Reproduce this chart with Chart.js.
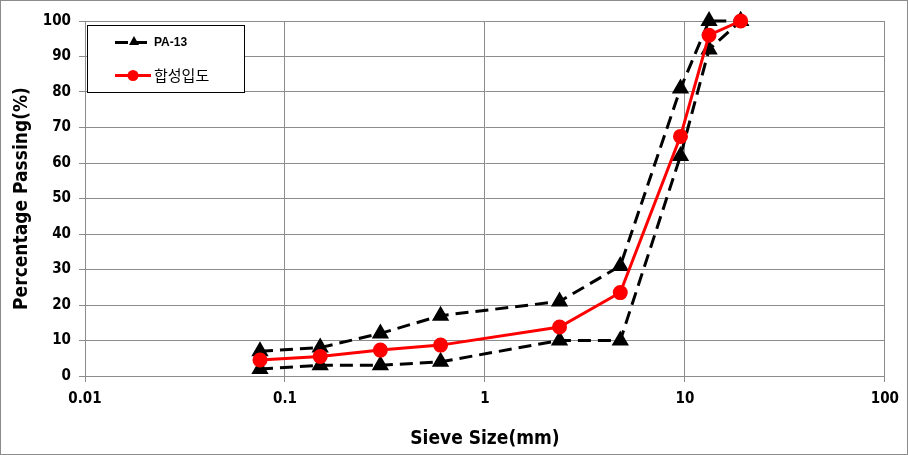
<!DOCTYPE html>
<html>
<head>
<meta charset="utf-8">
<script src="https://cdn.jsdelivr.net/npm/chart.js@4"></script>
<style>
  html, body { margin: 0; padding: 0; background: #fff; }
  #wrap { position: relative; width: 906px; height: 453px; border: 1px solid #8c8c8c; }
</style>
</head>
<body>
<div id="wrap"><canvas id="myChart" width="906" height="453"></canvas></div>
<script>
const sieveSizes = [0.075, 0.15, 0.3, 0.6, 2.36, 4.75, 9.5, 13.2, 19];
const upperLimit = [7, 8, 12, 17, 21, 31, 81, 100, 100];
const lowerLimit = [2, 3, 3, 4, 10, 10, 62, 92, 100];
const blendPassing = [4.5, 5.5, 7.3, 8.7, 13.8, 23.5, 67.5, 96, 100];
const xTicks = [0.01, 0.1, 1, 10, 100];

const axisFont = { family: "'DejaVu Sans Condensed', 'Liberation Sans', sans-serif", weight: 'bold', size: 15 };
const titleFont = { family: "'DejaVu Sans Condensed', 'Liberation Sans', sans-serif", weight: 'bold', size: 19 };

function toPoints(values) {
    return sieveSizes.map((s, i) => ({ x: s, y: values[i] }));
}

const blackDash = {
    borderColor: '#000',
    backgroundColor: '#000',
    borderWidth: 3,
    borderDash: [13, 7],
    pointStyle: 'triangle',
    pointRadius: 7,
    pointHoverRadius: 7,
    tension: 0,
    clip: false,
    order: 2
};

const legendBox = {
    id: 'legendBox',
    afterDraw(chart) {
        const ctx = chart.ctx;
        ctx.save();
        ctx.fillStyle = '#fff';
        ctx.fillRect(86, 24, 158, 67);
        ctx.strokeStyle = '#000';
        ctx.lineWidth = 1;
        ctx.strokeRect(86.5, 24.5, 157, 67);

        // PA-13 sample
        ctx.strokeStyle = '#000';
        ctx.lineWidth = 3;
        ctx.setLineDash([13, 6]);
        ctx.beginPath();
        ctx.moveTo(114, 41.5);
        ctx.lineTo(152, 41.5);
        ctx.stroke();
        ctx.setLineDash([]);
        ctx.fillStyle = '#000';
        ctx.beginPath();
        ctx.moveTo(133, 35);
        ctx.lineTo(138, 44);
        ctx.lineTo(128, 44);
        ctx.closePath();
        ctx.fill();
        ctx.font = "bold 12px 'Liberation Sans', sans-serif";
        ctx.textBaseline = 'middle';
        ctx.fillText('PA-13', 153, 42);

        // 합성입도 sample
        ctx.strokeStyle = '#ff0000';
        ctx.lineWidth = 3;
        ctx.beginPath();
        ctx.moveTo(114, 74.5);
        ctx.lineTo(150, 74.5);
        ctx.stroke();
        ctx.fillStyle = '#ff0000';
        ctx.beginPath();
        ctx.arc(132, 74.5, 5.5, 0, Math.PI * 2);
        ctx.fill();
        ctx.fillStyle = '#000';
        ctx.font = "15px 'Noto Sans CJK KR', sans-serif";
        ctx.fillText('합성입도', 153, 74);
        ctx.restore();
    }
};

const ctx = document.getElementById('myChart').getContext('2d');
const myChart = new Chart(ctx, {
    type: 'line',
    data: {
        datasets: [
            Object.assign({ label: 'PA-13', data: toPoints(upperLimit) }, blackDash),
            Object.assign({ label: 'PA-13', data: toPoints(lowerLimit) }, blackDash),
            {
                label: '합성입도',
                data: toPoints(blendPassing),
                borderColor: '#ff0000',
                backgroundColor: '#ff0000',
                borderWidth: 3,
                pointStyle: 'circle',
                pointRadius: 6,
                pointHoverRadius: 6,
                tension: 0,
                clip: false,
                order: 1
            }
        ]
    },
    options: {
        responsive: false,
        animation: false,
        layout: { padding: { top: 20, right: 22, left: 6, bottom: 0 } },
        plugins: {
            legend: { display: false },
            tooltip: { enabled: false }
        },
        scales: {
            x: {
                type: 'logarithmic',
                min: 0.01,
                max: 100,
                afterBuildTicks(axis) {
                    axis.ticks = xTicks.map(v => ({ value: v }));
                },
                afterFit(axis) { axis.height = 78; },
                ticks: {
                    color: '#000',
                    font: axisFont,
                    padding: 8,
                    maxRotation: 0,
                    callback: v => String(v)
                },
                grid: { color: '#8c8c8c', lineWidth: 1, tickLength: 6 },
                border: { color: '#8c8c8c' },
                title: { display: true, text: 'Sieve Size(mm)', color: '#000', font: titleFont, padding: { top: 6 } }
            },
            y: {
                min: 0,
                max: 100,
                afterFit(axis) { axis.width = 78; },
                ticks: { stepSize: 10, color: '#000', font: axisFont, padding: 8 },
                grid: { color: '#8c8c8c', lineWidth: 1, tickLength: 6 },
                border: { color: '#8c8c8c' },
                title: { display: true, text: 'Percentage Passing(%)', color: '#000', font: titleFont, padding: { bottom: 4 } }
            }
        }
    },
    plugins: [legendBox]
});
</script>
</body>
</html>
